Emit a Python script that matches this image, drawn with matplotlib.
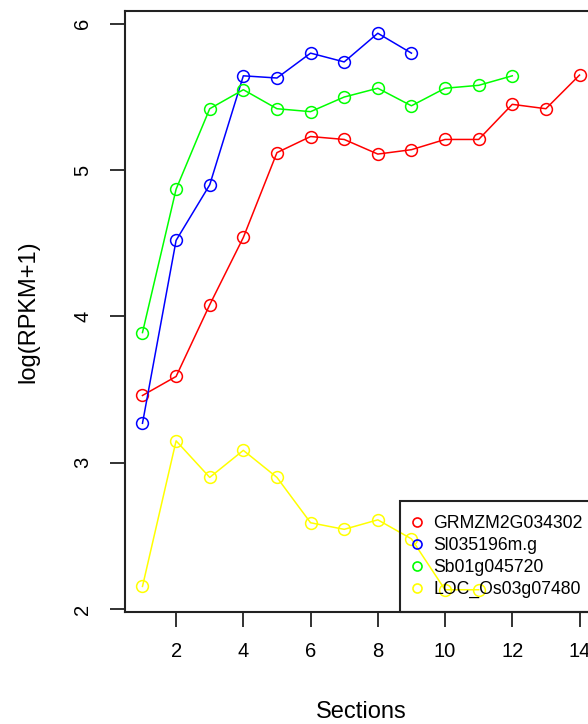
import matplotlib
matplotlib.use("Agg")
import matplotlib.pyplot as plt

plt.rcParams['font.family'] = ['Liberation Sans', 'DejaVu Sans']

# Expression per section, log(RPKM+1)
gene_names = ["GRMZM2G034302", "Sl035196m.g", "Sb01g045720", "LOC_Os03g07480"]
colors = ["#ff0000", "#0000ff", "#00ff00", "#ffff00"]

maize = [3.46, 3.59, 4.08, 4.54, 5.12, 5.23, 5.21, 5.11, 5.14, 5.21, 5.21,
         5.45, 5.42, 5.65]
setaria = [3.27, 4.52, 4.90, 5.645, 5.63, 5.80, 5.74, 5.936, 5.80]
sorghum = [3.89, 4.87, 5.42, 5.55, 5.42, 5.40, 5.50, 5.56, 5.44, 5.56,
           5.58, 5.645]
rice = [2.155, 3.15, 2.90, 3.085, 2.90, 2.59, 2.545, 2.61, 2.48, 2.132, 2.132]

series = [maize, setaria, sorghum, rice]

x_ticks = [2, 4, 6, 8, 10, 12, 14]
y_ticks = [2, 3, 4, 5, 6]

fig = plt.figure(figsize=(5.88, 7.24), dpi=100)
ax = fig.add_axes([125 / 588, 112 / 724, 472 / 588, 601 / 724])

for vals, col, name in zip(series, colors, gene_names):
    xs = list(range(1, len(vals) + 1))
    ax.plot(xs, vals, color=col, lw=1.1, marker='o', ms=8.5,
            mfc='none', mec=col, mew=1.1, label=name)

ax.set_xlim(0.48, 14.52)
ax.set_ylim(1.98, 6.088)
ax.set_xticks(x_ticks)
ax.set_yticks(y_ticks)
ax.tick_params(axis='both', direction='out', length=10.5, width=1.3,
               labelsize=14.5, color='#222222')
ax.tick_params(axis='x', pad=11)
ax.tick_params(axis='y', pad=13)
for lbl in ax.get_yticklabels():
    lbl.set_rotation(90)
    lbl.set_va('center')

for sp in ax.spines.values():
    sp.set_linewidth(1.5)
    sp.set_color('#222222')

ax.set_xlabel('Sections', fontsize=17, va='center')
ax.xaxis.set_label_coords(0.5, -0.1664)
ax.set_ylabel('log(RPKM+1)', fontsize=17, va='center')
ax.yaxis.set_label_coords(-0.2055, 0.5)

# Legend: small open markers, drawn over the lines with a transparent box
handles = [plt.Line2D([], [], ls='none', marker='o', ms=6.5, mfc='none',
                      mec=c, mew=1.2) for c in colors]
leg = ax.legend(handles, gene_names, loc='lower right', borderaxespad=0,
                fontsize=12.7, frameon=True, fancybox=False,
                handlelength=0.4, handletextpad=0.71,
                borderpad=0.8, labelspacing=0.27)
frame = leg.get_frame()
frame.set_alpha(None)
frame.set_facecolor((1, 1, 1, 0))
frame.set_edgecolor('#222222')
frame.set_linewidth(1.5)

fig.savefig('out.png', dpi=100)
